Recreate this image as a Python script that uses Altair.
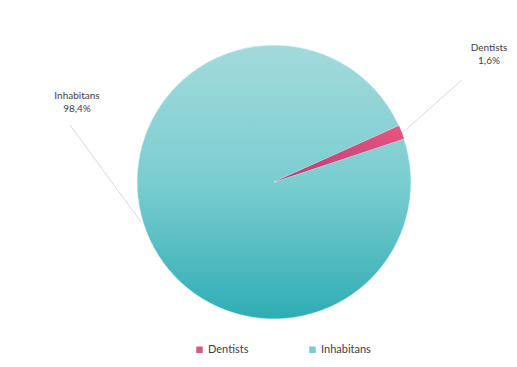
import math
import altair as alt
import pandas as pd

categories = ["Dentists", "Inhabitans"]
shares = [1.6, 98.4]
pct_labels = ["1,6%", "98,4%"]

df = pd.DataFrame({"category": categories, "share": shares,
                   "pct": pct_labels, "order": list(range(len(categories)))})

W, H = 501, 351
CX, CY, R = 266, 174, 137
START = math.radians(65.8)
FONT = "Lato"
TXT = "#404040"

base = alt.Chart(df).transform_window(
    cum="sum(share)", sort=[alt.SortField("order")]
).transform_calculate(t0="datum.cum - datum.share",
                      lab="[datum.category, datum.pct]")

theta_scale = alt.Scale(domain=[0, 100], range=[START, START + 2 * math.pi])

arcs = base.mark_arc(radius=R, stroke="white", strokeWidth=0.6).encode(
    theta=alt.Theta("t0:Q", scale=theta_scale),
    theta2="cum:Q",
    x=alt.value(CX), y=alt.value(CY),
    color=alt.Color(
        "category:N",
        scale=alt.Scale(domain=categories, range=["#d45a80", "#78cdcf"]),
        legend=alt.Legend(
            orient="none", legendX=186, legendY=336, direction="horizontal",
            title=None, symbolType="square", symbolSize=42, symbolStrokeWidth=0,
            labelFont=FONT, labelFontSize=11, labelColor=TXT, columnPadding=58,
            labelOffset=3,
        ),
    ),
)

grad = alt.Gradient(
    gradient="linear", x1=0, y1=0, x2=0, y2=1,
    stops=[alt.GradientStop(offset=0, color="#a3dadc"),
           alt.GradientStop(offset=0.5, color="#7bcdd0"),
           alt.GradientStop(offset=1, color="#2eadb4")],
)
inh = base.transform_filter("datum.category == 'Inhabitans'").mark_arc(
    radius=R, fill=grad, stroke="white", strokeWidth=0.6
).encode(theta=alt.Theta("t0:Q", scale=theta_scale), theta2="cum:Q",
         x=alt.value(CX), y=alt.value(CY))

pgrad = alt.Gradient(
    gradient="linear", x1=0, y1=1, x2=1, y2=0,
    stops=[alt.GradientStop(offset=0, color="#b0407a"),
           alt.GradientStop(offset=1, color="#ea5480")],
)
den = base.transform_filter("datum.category == 'Dentists'").mark_arc(
    radius=R, fill=pgrad
).encode(theta=alt.Theta("t0:Q", scale=theta_scale), theta2="cum:Q",
         x=alt.value(CX), y=alt.value(CY))

line_d = base.transform_filter("datum.category == 'Dentists'").mark_rule(
    color="#d9d9d9", strokeWidth=1
).encode(x=alt.value(394), y=alt.value(125), x2=alt.value(454), y2=alt.value(72))
line_i = base.transform_filter("datum.category == 'Inhabitans'").mark_rule(
    color="#d9d9d9", strokeWidth=1
).encode(x=alt.value(133), y=alt.value(214), x2=alt.value(62), y2=alt.value(117))

lab_d = base.transform_filter("datum.category == 'Dentists'").mark_text(
    font=FONT, fontSize=10, color=TXT, align="center", baseline="top", lineHeight=13
).encode(text="lab:N", x=alt.value(481), y=alt.value(35))
lab_i = base.transform_filter("datum.category == 'Inhabitans'").mark_text(
    font=FONT, fontSize=10, color=TXT, align="center", baseline="top", lineHeight=13
).encode(text="lab:N", x=alt.value(69), y=alt.value(83))

chart = alt.layer(arcs, inh, den, line_d, line_i, lab_d, lab_i).properties(
    width=W, height=H, autosize=alt.AutoSizeParams(type="none"), padding=0,
    background="white",
).configure_view(stroke=None)

chart.save("out.html", embed_options={"renderer": "svg", "actions": False})
